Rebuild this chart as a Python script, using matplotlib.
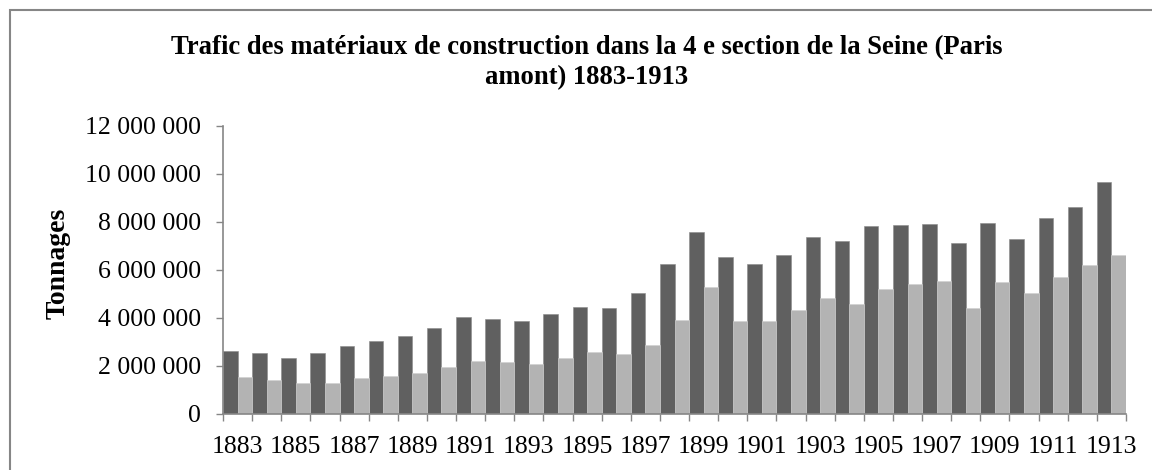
import numpy as np
import matplotlib.pyplot as plt
from matplotlib.ticker import FuncFormatter, FixedLocator
from matplotlib.patches import Rectangle

plt.rcParams['font.family'] = ['Liberation Serif', 'DejaVu Serif']

years = list(range(1883, 1914))

# dark series (upper bars)
total = [2620000, 2540000, 2320000, 2530000, 2830000, 3040000, 3250000, 3580000,
         4030000, 3940000, 3870000, 4180000, 4470000, 4400000, 5030000, 6240000,
         7580000, 6530000, 6240000, 6610000, 7370000, 7210000, 7820000, 7880000,
         7900000, 7110000, 7960000, 7290000, 8180000, 8630000, 9650000]

# light series
part = [1530000, 1430000, 1310000, 1310000, 1490000, 1580000, 1710000, 1970000,
        2220000, 2170000, 2070000, 2320000, 2600000, 2490000, 2890000, 3920000,
        5290000, 3860000, 3890000, 4350000, 4830000, 4580000, 5210000, 5400000,
        5530000, 4400000, 5490000, 5060000, 5720000, 6220000, 6610000]

title = "Trafic des matériaux de construction dans la 4 e section de la Seine (Paris\namont) 1883-1913"

dark = '#606060'
light = '#b3b3b3'
axis_col = '#868686'

fig = plt.figure(figsize=(11.52, 4.70), dpi=100)
ax = fig.add_axes([223/1152, 56/470, 903/1152, 288/470])

x = np.arange(len(years))
ax.bar(x - 0.25, total, width=0.5, color=dark, edgecolor='#8a8a8a', linewidth=0.4)
ax.bar(x + 0.25, part, width=0.5, color=light, edgecolor='#d0d0d0', linewidth=0.4)

ax.set_xlim(-0.5, len(years) - 0.5)
ax.set_ylim(0, 12000000)
ax.set_yticks(np.arange(0, 12000001, 2000000))
ax.yaxis.set_major_formatter(FuncFormatter(lambda v, p: '{:,}'.format(int(v)).replace(',', ' ')))

ax.set_xticks(x[::2])
ax.set_xticklabels([str(y) for y in years[::2]])
ax.xaxis.set_minor_locator(FixedLocator(np.arange(-0.5, len(years), 1.0)))
ax.tick_params(axis='x', which='major', length=0, pad=16, labelsize=18.5)
ax.tick_params(axis='x', which='minor', length=5, width=1, color=axis_col, direction='out')
ax.tick_params(axis='y', length=5, width=1, color=axis_col, pad=11, labelsize=18.5)

for s in ['top', 'right']:
    ax.spines[s].set_visible(False)
for s in ['left', 'bottom']:
    ax.spines[s].set_color(axis_col)
    ax.spines[s].set_linewidth(1.2)

fig.text(587/1152, 1 - 35/470, title, ha='center', va='top', fontsize=19.2,
         fontweight='bold', linespacing=1.25)
fig.text(58/1152, 1 - 263/470, 'Tonnages', rotation=90, ha='center', va='center',
         fontsize=20, fontweight='bold')

# outer chart border
fig.patches.append(Rectangle((10/1152, -0.1), 1.2, 1 - 10/470 + 0.1, transform=fig.transFigure,
                             fill=False, edgecolor=axis_col, linewidth=1.5))

fig.savefig('out.png', dpi=100)
